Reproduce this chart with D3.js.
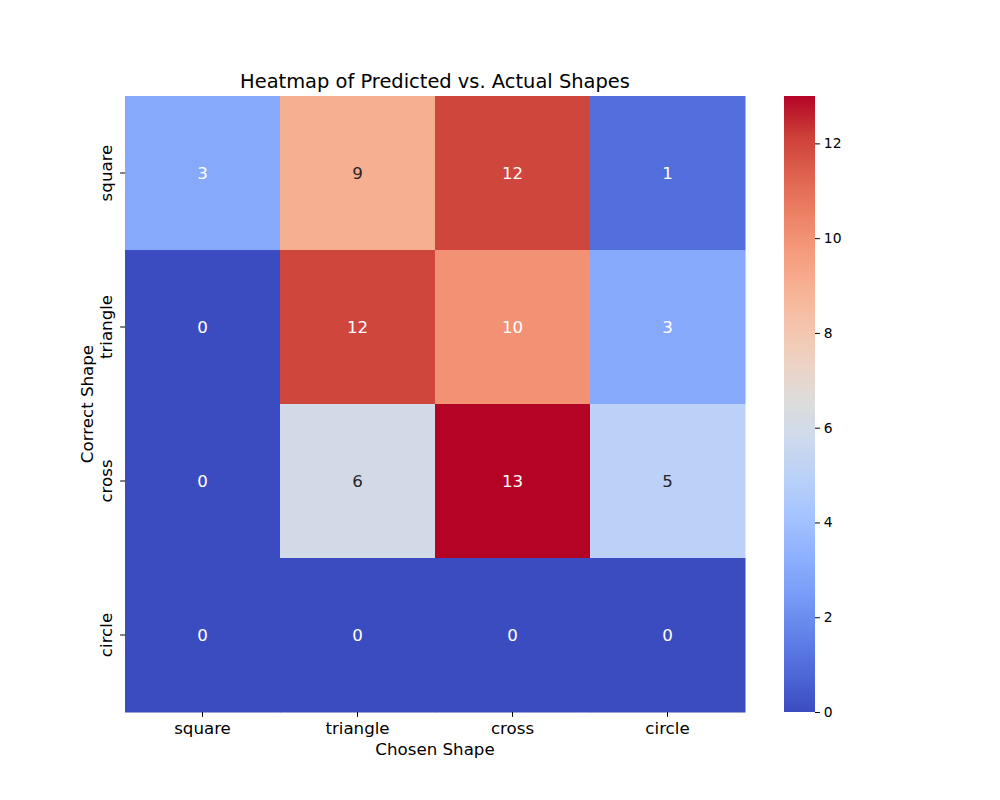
<!DOCTYPE html>
<html>
<head>
<meta charset="utf-8">
<script src="https://cdn.jsdelivr.net/npm/d3@7"></script>
<style>
  body { margin: 0; background: #fff; }
  text { font-family: 'DejaVu Sans', sans-serif; }
</style>
</head>
<body>
<div id="chart"></div>
<script>
// Categories (rows = correct shape, columns = chosen shape)
let chosenShapes = ['square', 'triangle', 'cross', 'circle'];
let correctShapes = ['square', 'triangle', 'cross', 'circle'];

// Counts, one array per correct shape
let squareRow = [3, 9, 12, 1];
let triangleRow = [0, 12, 10, 3];
let crossRow = [0, 6, 13, 5];
let circleRow = [0, 0, 0, 0];

let colorbarTicks = [0, 2, 4, 6, 8, 10, 12];

let rows = [squareRow, triangleRow, crossRow, circleRow];

// matplotlib coolwarm control points (every 1/16)
let cwStops = [
  [0.2298, 0.2987, 0.7537], [0.3039, 0.4065, 0.8450], [0.3830, 0.5094, 0.9174],
  [0.4667, 0.6046, 0.9682], [0.5530, 0.6889, 0.9954], [0.6392, 0.7596, 0.9982],
  [0.7222, 0.8140, 0.9766], [0.7987, 0.8498, 0.9317], [0.8654, 0.8654, 0.8654],
  [0.9241, 0.8274, 0.7745], [0.9589, 0.7698, 0.6780], [0.9700, 0.6943, 0.5794],
  [0.9580, 0.6028, 0.4818], [0.9239, 0.4973, 0.3880], [0.8692, 0.3783, 0.3003],
  [0.7956, 0.2413, 0.2205], [0.7057, 0.0156, 0.1502]
];

function coolwarm(t) {
  t = Math.max(0, Math.min(1, t));
  let p = t * 16;
  let i = Math.min(15, Math.floor(p));
  let f = p - i;
  let a = cwStops[i], b = cwStops[i + 1];
  return a.map((v, k) => v + (b[k] - v) * f);
}

function toCss(c) {
  return d3.rgb(c[0] * 255, c[1] * 255, c[2] * 255).formatHex();
}

function luminance(c) {
  let lin = c.map(v => v <= 0.03928 ? v / 12.92 : Math.pow((v + 0.055) / 1.055, 2.4));
  return 0.2126 * lin[0] + 0.7152 * lin[1] + 0.0722 * lin[2];
}

let svgWidth = 1000;
let svgHeight = 800;

let margin = { top: 96, left: 125 };
let width = 620;
let height = 616;

let svg = d3.select('#chart')
  .append('svg')
  .attr('width', svgWidth)
  .attr('height', svgHeight);

let chartGroup = svg.append('g')
  .attr('transform', `translate(${margin.left}, ${margin.top})`);

let xScale = d3.scaleBand().domain(chosenShapes).range([0, width]);
let yScale = d3.scaleBand().domain(correctShapes).range([0, height]);
let colorScale = d3.scaleLinear().domain([0, 13]).range([0, 1]);

// flatten to cells
let cells = [];
rows.forEach((row, r) => {
  row.forEach((v, c) => {
    cells.push({ row: correctShapes[r], col: chosenShapes[c], value: v });
  });
});

chartGroup.selectAll('.cell')
  .data(cells)
  .enter()
  .append('rect')
  .attr('class', 'cell')
  .attr('x', d => xScale(d.col))
  .attr('y', d => yScale(d.row))
  .attr('width', xScale.bandwidth() + 0.5)
  .attr('height', yScale.bandwidth() + 0.5)
  .attr('fill', d => toCss(coolwarm(colorScale(d.value))));

chartGroup.selectAll('.annot')
  .data(cells)
  .enter()
  .append('text')
  .attr('class', 'annot')
  .attr('x', d => xScale(d.col) + xScale.bandwidth() / 2)
  .attr('y', d => yScale(d.row) + yScale.bandwidth() / 2)
  .attr('dy', '0.36em')
  .attr('text-anchor', 'middle')
  .attr('font-size', '16.67px')
  .attr('fill', d => luminance(coolwarm(colorScale(d.value))) > 0.408 ? '#262626' : '#ffffff')
  .text(d => d.value);

// Axes
let bottomAxis = d3.axisBottom(xScale).tickSize(4.86).tickPadding(5);
let leftAxis = d3.axisLeft(yScale).tickSize(4.86).tickPadding(4);

let xAxis = chartGroup.append('g')
  .attr('transform', `translate(0, ${height})`)
  .call(bottomAxis);
xAxis.select('.domain').remove();
xAxis.selectAll('text')
  .attr('font-size', '16.67px')
  .attr('font-family', 'DejaVu Sans')
  .attr('fill', '#000');

let yAxis = chartGroup.append('g')
  .call(leftAxis);
yAxis.select('.domain').remove();
yAxis.selectAll('text')
  .attr('font-size', '16.67px')
  .attr('font-family', 'DejaVu Sans')
  .attr('fill', '#000')
  .attr('text-anchor', 'middle')
  .attr('dy', 0)
  .attr('x', 0)
  .attr('transform', 'translate(-13, 0) rotate(-90)');

// Axis labels and title
chartGroup.append('text')
  .attr('x', width / 2)
  .attr('y', height + 43)
  .attr('text-anchor', 'middle')
  .attr('font-size', '16.67px')
  .text('Chosen Shape');

chartGroup.append('text')
  .attr('transform', `translate(-32, ${height / 2}) rotate(-90)`)
  .attr('text-anchor', 'middle')
  .attr('font-size', '16.67px')
  .text('Correct Shape');

chartGroup.append('text')
  .attr('x', width / 2)
  .attr('y', -8)
  .attr('text-anchor', 'middle')
  .attr('font-size', '19.44px')
  .text('Heatmap of Predicted vs. Actual Shapes');

// Colorbar
let cbX = 784;
let cbWidth = 31;
let cbScale = d3.scaleLinear().domain([0, 13]).range([margin.top + height, margin.top]);

let defs = svg.append('defs');
let grad = defs.append('linearGradient')
  .attr('id', 'cwGrad')
  .attr('x1', 0).attr('y1', 1)
  .attr('x2', 0).attr('y2', 0);
grad.selectAll('stop')
  .data(d3.range(0, 65).map(i => i / 64))
  .enter()
  .append('stop')
  .attr('offset', d => d)
  .attr('stop-color', d => toCss(coolwarm(d)));

svg.append('rect')
  .attr('x', cbX)
  .attr('y', margin.top)
  .attr('width', cbWidth)
  .attr('height', height)
  .attr('fill', 'url(#cwGrad)');

let cbAxis = svg.append('g')
  .attr('transform', `translate(${cbX + cbWidth}, 0)`)
  .call(d3.axisRight(cbScale).tickValues(colorbarTicks).tickSize(4.86).tickPadding(4));
cbAxis.select('.domain').remove();
cbAxis.selectAll('text')
  .attr('font-size', '13.89px')
  .attr('font-family', 'DejaVu Sans')
  .attr('fill', '#000');
</script>
</body>
</html>
